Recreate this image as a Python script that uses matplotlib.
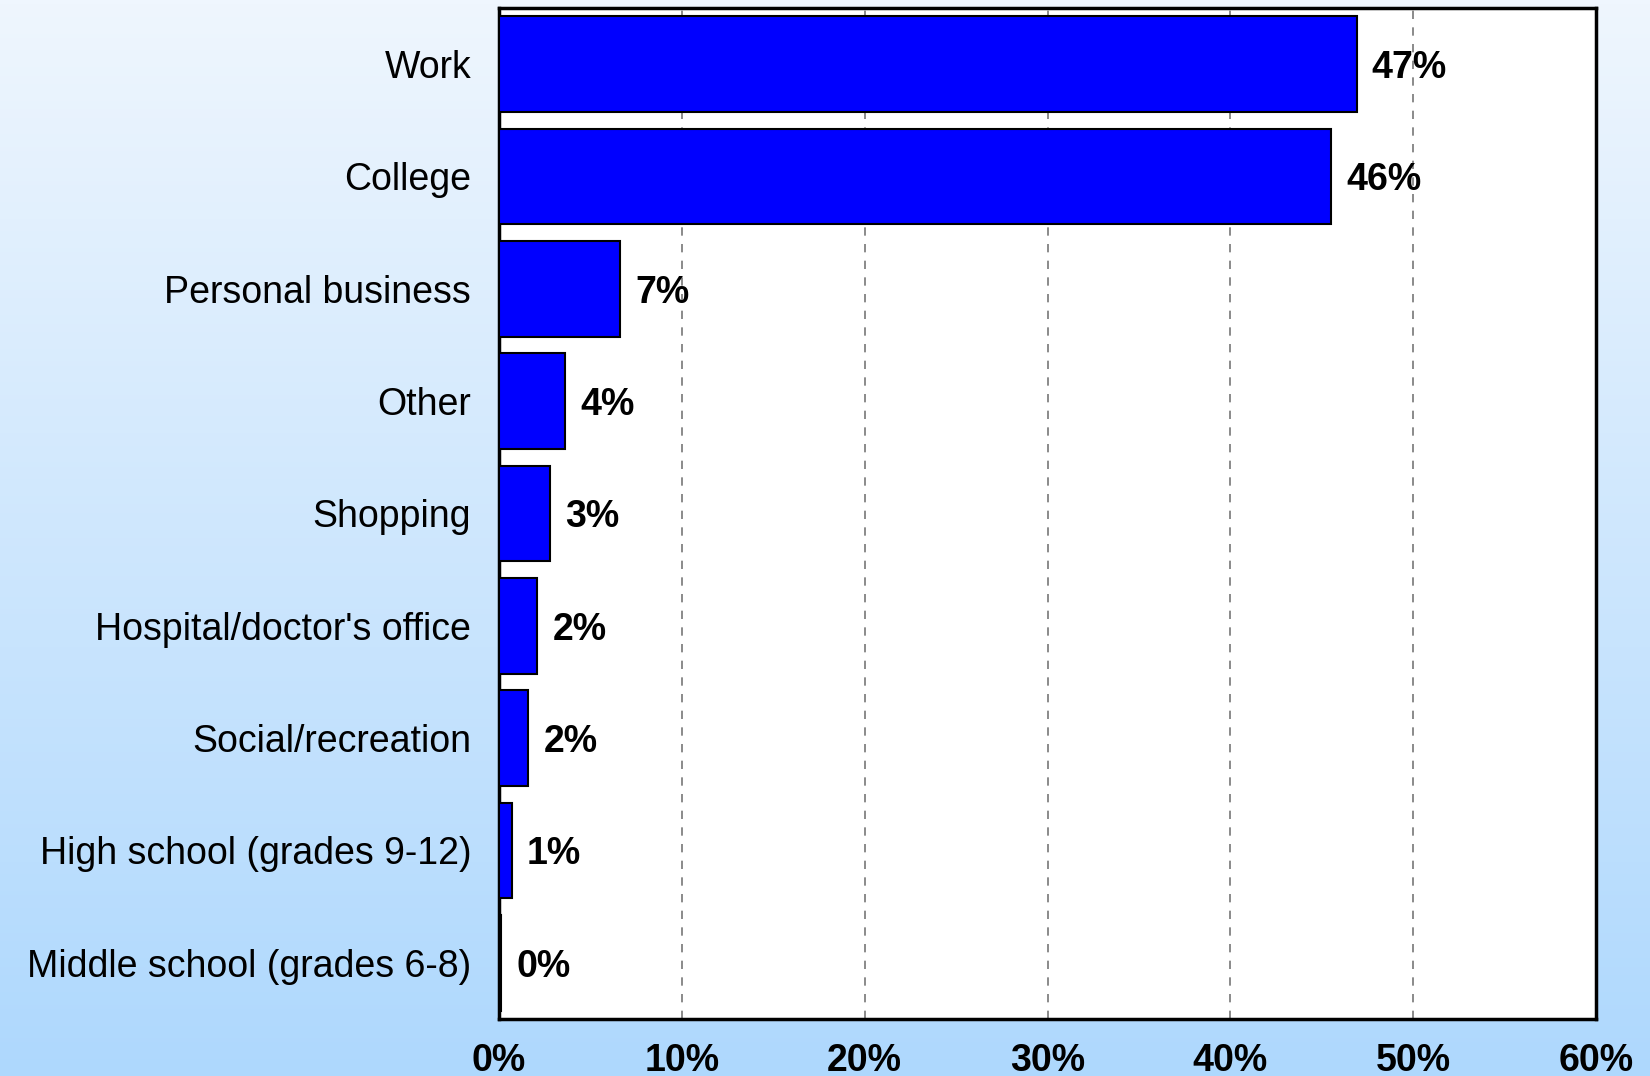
import numpy as np
import matplotlib
matplotlib.use("Agg")
import matplotlib.pyplot as plt
from matplotlib.colors import LinearSegmentedColormap

# trip purposes, top to bottom, share of trips in percent
purposes = ["Work", "College", "Personal business", "Other", "Shopping",
            "Hospital/doctor's office", "Social/recreation",
            "High school (grades 9-12)", "Middle school (grades 6-8)"]
shares = [46.9, 45.5, 6.6, 3.6, 2.8, 2.1, 1.6, 0.7, 0.1]
xticks = [0, 10, 20, 30, 40, 50, 60]

plt.rcParams['font.family'] = ['Liberation Sans', 'DejaVu Sans']
FS = 27

fig = plt.figure(figsize=(16.5, 10.76), dpi=100)

# light-to-sky-blue backdrop behind everything
bg = fig.add_axes([0, 0, 1, 1], zorder=-10)
cmap = LinearSegmentedColormap.from_list("bg", ["#eff6fe", "#aed8fd"])
bg.imshow(np.linspace(0, 1, 256).reshape(-1, 1), aspect="auto", cmap=cmap,
          extent=[0, 1, 0, 1])
bg.set_axis_off()

ax = fig.add_axes([0.3024, 0.053, 0.6649, 0.9396])
ax.set_facecolor("white")

ypos = np.arange(len(purposes))[::-1]
ax.barh(ypos, shares, height=0.85, color="#0000ff", edgecolor="black",
        linewidth=1.5, zorder=3)

for y, v in zip(ypos, shares):
    ax.annotate(f"{v:.0f}%", (v, y), xytext=(11, 0), textcoords="offset points",
                va="center_baseline", ha="left", fontsize=FS, fontweight="bold",
                zorder=4)

ax.set_xlim(0, 60)
ax.set_ylim(-0.5, len(purposes) - 0.5)
ax.set_xticks(xticks)
ax.set_xticklabels([f"{t}%" for t in xticks], fontsize=FS, fontweight="bold")
ax.set_yticks(ypos)
ax.set_yticklabels(purposes, fontsize=FS, va="center_baseline")
ax.tick_params(axis="x", length=0, pad=17)
ax.tick_params(axis="y", length=0, pad=20)

for t in xticks[1:-1]:
    ax.axvline(t, color="#777777", linestyle=(0, (5, 5)), linewidth=1.2, zorder=1)

for s in ax.spines.values():
    s.set_linewidth(2.5)
    s.set_color("black")

fig.savefig("out.png", dpi=100)
